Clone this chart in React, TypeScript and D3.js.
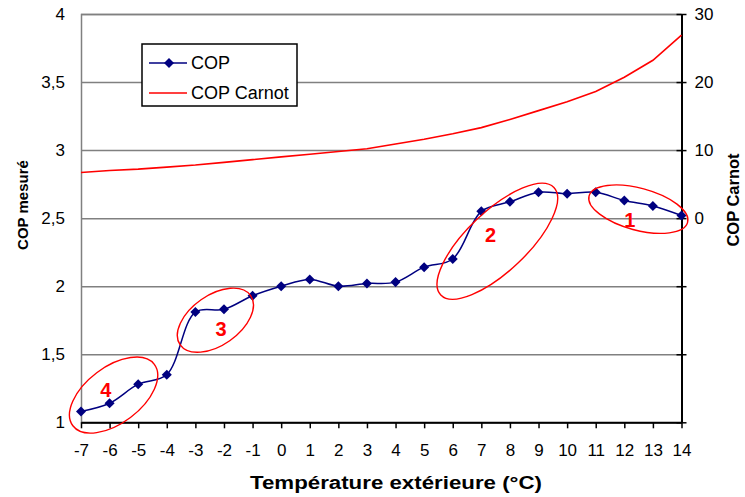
import * as d3 from "d3";
import { useEffect, useRef } from "react";

// outdoor temperature (°C)
const temps = [-7, -6, -5, -4, -3, -2, -1, 0, 1, 2, 3, 4, 5, 6, 7, 8, 9, 10, 11, 12, 13, 14];
// measured COP (left axis)
const copMeasured = [1.08, 1.14, 1.28, 1.35, 1.81, 1.83, 1.93, 2.0, 2.05, 2.0, 2.02, 2.03, 2.14, 2.2, 2.55, 2.62, 2.69, 2.68, 2.69, 2.63, 2.59, 2.52];
// Carnot COP (right axis)
const copCarnot = [6.7, 7.0, 7.2, 7.5, 7.8, 8.2, 8.6, 9.0, 9.4, 9.8, 10.2, 10.9, 11.6, 12.4, 13.3, 14.5, 15.8, 17.1, 18.6, 20.7, 23.2, 26.9];

const leftTicks = [1, 1.5, 2, 2.5, 3, 3.5, 4];
const rightTicks = [-30, -20, -10, 0, 10, 20, 30];

// hand-drawn zones: ellipse centre and label position in data units
const zoneLabels = ["4", "3", "2", "1"];
const zoneCenters = [[-5.86, 1.2], [-2.3, 1.75], [7.56, 2.33], [12.49, 2.566]];
const zoneLabelPos = [[-6.13, 1.24], [-2.1, 1.69], [7.32, 2.38], [12.19, 2.49]];
const zoneShape = [[51, 28, -37], [43, 25, -35], [78, 30, -43.5], [51, 21, 15]];

const FONT = "'Liberation Sans', Arial, sans-serif";

export default function App() {
  const svgRef = useRef<SVGSVGElement | null>(null);

  useEffect(() => {
    if (!svgRef.current) return;
    const svg = d3.select(svgRef.current);
    svg.selectAll("*").remove();

    const width = 745;
    const height = 497;
    const margin = { top: 14, right: 63.5, bottom: 74.7, left: 81 };
    const innerWidth = width - margin.left - margin.right;

    const x = d3.scaleLinear().domain([-7, 14]).range([margin.left, width - margin.right]);
    const y = d3.scaleLinear().domain([1, 4]).range([height - margin.bottom, margin.top]);
    const yR = d3.scaleLinear().domain([-30, 30]).range([height - margin.bottom, margin.top]);

    const fmt = (v: number) => (v % 1 ? v.toFixed(1).replace(".", ",") : String(v));

    // grid + left axis
    const yAxisGroup = svg
      .append("g")
      .attr("transform", `translate(${margin.left},0)`)
      .call(
        d3.axisLeft(y).tickValues(leftTicks).tickSize(-innerWidth).tickPadding(16).tickFormat(fmt as any) as any
      );
    yAxisGroup.select(".domain").attr("stroke", "#808080").attr("stroke-width", 1.5);
    yAxisGroup.selectAll("line").attr("stroke", "#808080").attr("stroke-width", 1.5);
    yAxisGroup.selectAll("text").attr("fill", "#000").attr("font-size", 17).attr("font-family", FONT);

    // bottom axis
    const xAxisGroup = svg
      .append("g")
      .attr("transform", `translate(0,${height - margin.bottom})`)
      .call(
        d3.axisBottom(x).tickValues(temps).tickSize(6).tickSizeOuter(0).tickPadding(16)
          .tickFormat(((d: number) => String(d)) as any) as any
      );
    xAxisGroup.select(".domain").attr("stroke", "#000").attr("stroke-width", 2);
    xAxisGroup.selectAll("line").attr("stroke", "#000").attr("stroke-width", 1.5);
    xAxisGroup.selectAll("text").attr("fill", "#000").attr("font-size", 17).attr("font-family", FONT);

    // right axis
    const rAxisGroup = svg
      .append("g")
      .attr("transform", `translate(${width - margin.right},0)`)
      .call(
        d3.axisRight(yR).tickValues(rightTicks).tickSize(5).tickSizeOuter(0).tickPadding(8)
          .tickFormat(((d: number) => (d >= 0 ? String(d) : "")) as any) as any
      );
    rAxisGroup.select(".domain").attr("stroke", "#000").attr("stroke-width", 2);
    rAxisGroup.selectAll("line").attr("stroke", "#000").attr("stroke-width", 1.5).attr("x1", -5);
    rAxisGroup.selectAll("text").attr("fill", "#000").attr("font-size", 17).attr("font-family", FONT);

    // Carnot line
    const carnotLine = d3
      .line<number>()
      .x((_, i) => x(temps[i]))
      .y((d) => yR(d));
    svg
      .append("path")
      .datum(copCarnot)
      .attr("fill", "none")
      .attr("stroke", "#ff0000")
      .attr("stroke-width", 1.6)
      .attr("d", carnotLine as any);

    // measured COP line (smoothed)
    const copLine = d3
      .line<number>()
      .x((_, i) => x(temps[i]))
      .y((d) => y(d))
      .curve(d3.curveCatmullRom.alpha(0.5));
    svg
      .append("path")
      .datum(copMeasured)
      .attr("fill", "none")
      .attr("stroke", "#000080")
      .attr("stroke-width", 1.5)
      .attr("d", copLine as any);

    const diamond = d3.symbol().type(d3.symbolDiamond2).size(64);
    svg
      .append("g")
      .selectAll("path")
      .data(copMeasured)
      .join("path")
      .attr("d", diamond as any)
      .attr("fill", "#000080")
      .attr("transform", (d, i) => `translate(${x(temps[i])},${y(d)})`);

    // zones
    const zones = svg.append("g");
    zoneCenters.forEach(([t, c], i) => {
      const [rx, ry, rot] = zoneShape[i];
      zones
        .append("ellipse")
        .attr("cx", 0)
        .attr("cy", 0)
        .attr("rx", rx)
        .attr("ry", ry)
        .attr("fill", "none")
        .attr("stroke", "#ff0000")
        .attr("stroke-width", 1.4)
        .attr("transform", `translate(${x(t)},${y(c)}) rotate(${rot})`);
      const [lt, lc] = zoneLabelPos[i];
      zones
        .append("text")
        .attr("x", x(lt))
        .attr("y", y(lc))
        .attr("dy", "0.36em")
        .attr("text-anchor", "middle")
        .attr("font-family", FONT)
        .attr("font-weight", "bold")
        .attr("font-size", 20)
        .attr("fill", "#ff0000")
        .text(zoneLabels[i]);
    });

    // legend
    const lg = svg.append("g");
    lg.append("rect")
      .attr("x", 142)
      .attr("y", 44)
      .attr("width", 155)
      .attr("height", 62)
      .attr("fill", "#fff")
      .attr("stroke", "#000")
      .attr("stroke-width", 1.5);
    lg.append("line").attr("x1", 149).attr("x2", 187).attr("y1", 63).attr("y2", 63).attr("stroke", "#000080").attr("stroke-width", 1.5);
    lg.append("path").attr("d", diamond as any).attr("fill", "#000080").attr("transform", "translate(169,63)");
    lg.append("line").attr("x1", 149).attr("x2", 187).attr("y1", 93).attr("y2", 93).attr("stroke", "#ff0000").attr("stroke-width", 1.5);
    ["COP", "COP Carnot"].forEach((s, i) => {
      lg.append("text")
        .attr("x", 191)
        .attr("y", 63 + i * 30)
        .attr("dy", "0.36em")
        .attr("font-family", FONT)
        .attr("font-size", 18)
        .text(s);
    });

    // axis titles
    const title = (sel: any, size: number) =>
      sel
        .attr("font-family", FONT)
        .attr("font-weight", "bold")
        .attr("font-size", size)
        .attr("text-anchor", "middle")
        .attr("fill", "#000");
    svg
      .append("text")
      .attr("x", 396)
      .attr("y", 489)
      .call(title, 18)
      .attr("textLength", 292)
      .attr("lengthAdjust", "spacingAndGlyphs")
      .text("Température extérieure (°C)");
    svg.append("text").attr("transform", "translate(28,205) rotate(-90)").call(title, 15).text("COP mesuré");
    svg.append("text").attr("transform", "translate(739,200) rotate(-90)").call(title, 16.5).text("COP Carnot");
  }, []);

  return (
    <svg
      ref={svgRef}
      width={745}
      height={497}
      style={{ position: "absolute", left: 0, top: 0, background: "#fff" }}
    />
  );
}
